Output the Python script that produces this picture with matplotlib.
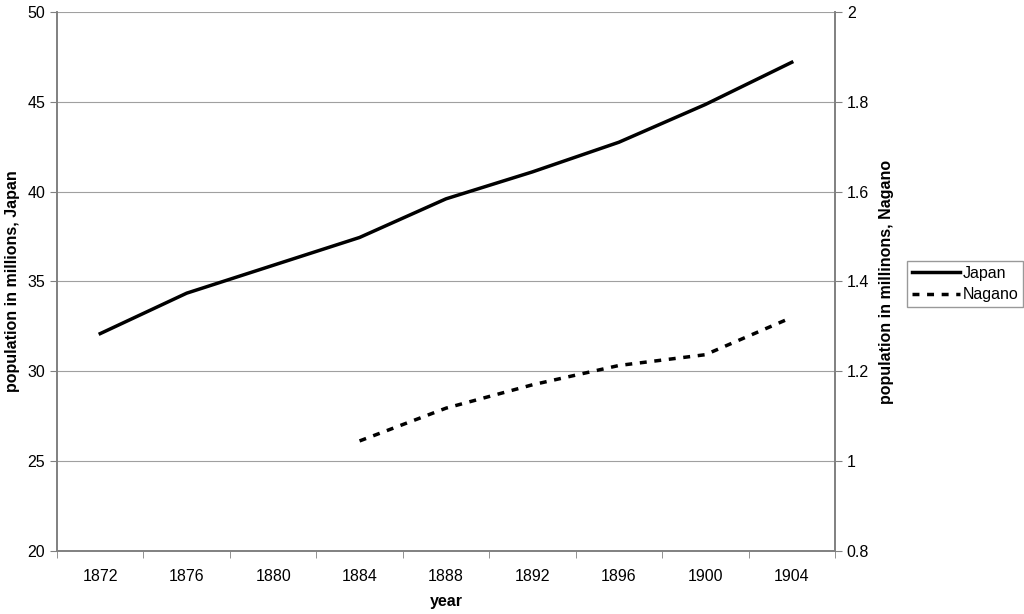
import matplotlib
matplotlib.use("Agg")
import matplotlib.pyplot as plt
import numpy as np

plt.rcParams['font.family'] = ['Liberation Sans', 'DejaVu Sans']

# Data
years = ["1872", "1876", "1880", "1884", "1888", "1892", "1896", "1900", "1904"]
japan = [32.1, 34.35, 35.9, 37.45, 39.6, 41.1, 42.75, 44.85, 47.2]
nagano_years = ["1884", "1888", "1892", "1896", "1900", "1904"]
nagano = [1.045, 1.118, 1.17, 1.213, 1.237, 1.32]

fig = plt.figure(figsize=(10.24, 6.14), dpi=100)
ax = fig.add_axes([0.0557, 0.1026, 0.7597, 0.8779])
ax2 = ax.twinx()

x = np.arange(len(years))
xn = [years.index(y) for y in nagano_years]

l1, = ax.plot(x, japan, color="black", linewidth=2.5, label="Japan")
l2, = ax2.plot(xn, nagano, color="black", linewidth=2.5, linestyle=(0, (2, 2.2)), label="Nagano")

ax.set_xlim(-0.5, len(years) - 0.5)
ax.set_ylim(20, 50)
ax.set_yticks(np.arange(20, 51, 5))
ax2.set_ylim(0.8, 2.0)
ax2.set_yticks([0.8, 1.0, 1.2, 1.4, 1.6, 1.8, 2.0])
ax2.set_yticklabels(["0.8", "1", "1.2", "1.4", "1.6", "1.8", "2"])

ax.set_xticks(x)
ax.set_xticklabels(years)
ax.set_xticks(np.arange(-0.5, len(years), 1), minor=True)
ax.tick_params(axis="x", which="major", length=0, pad=13, labelsize=11.5)
ax.tick_params(axis="x", which="minor", length=5, color="#808080")
ax.tick_params(axis="y", length=5, labelsize=11.5, color="#808080")
ax2.tick_params(axis="y", length=5, labelsize=11.5, color="#808080")

ax.grid(axis="y", color="#a0a0a0", linewidth=0.8)
ax.set_axisbelow(True)
for a in (ax, ax2):
    for s in a.spines.values():
        s.set_color("#808080")
        s.set_linewidth(1.2)
    a.spines["top"].set_visible(False)

ax.set_xlabel("year", fontsize=11.5, fontweight="bold", labelpad=7)
ax.set_ylabel("population in millions, Japan", fontsize=11.5, fontweight="bold", labelpad=5)
ax2.set_ylabel("population in millinons, Nagano", fontsize=11.5, fontweight="bold", labelpad=7)

fig.legend(handles=[l1, l2], loc="center left", bbox_to_anchor=(0.884, 0.537),
           fontsize=11.5, frameon=True, fancybox=False, edgecolor="#808080",
           handlelength=3.0, borderpad=0.3, labelspacing=0.4, handletextpad=0.2,
           borderaxespad=0.1)

fig.savefig("out.png", dpi=100)
